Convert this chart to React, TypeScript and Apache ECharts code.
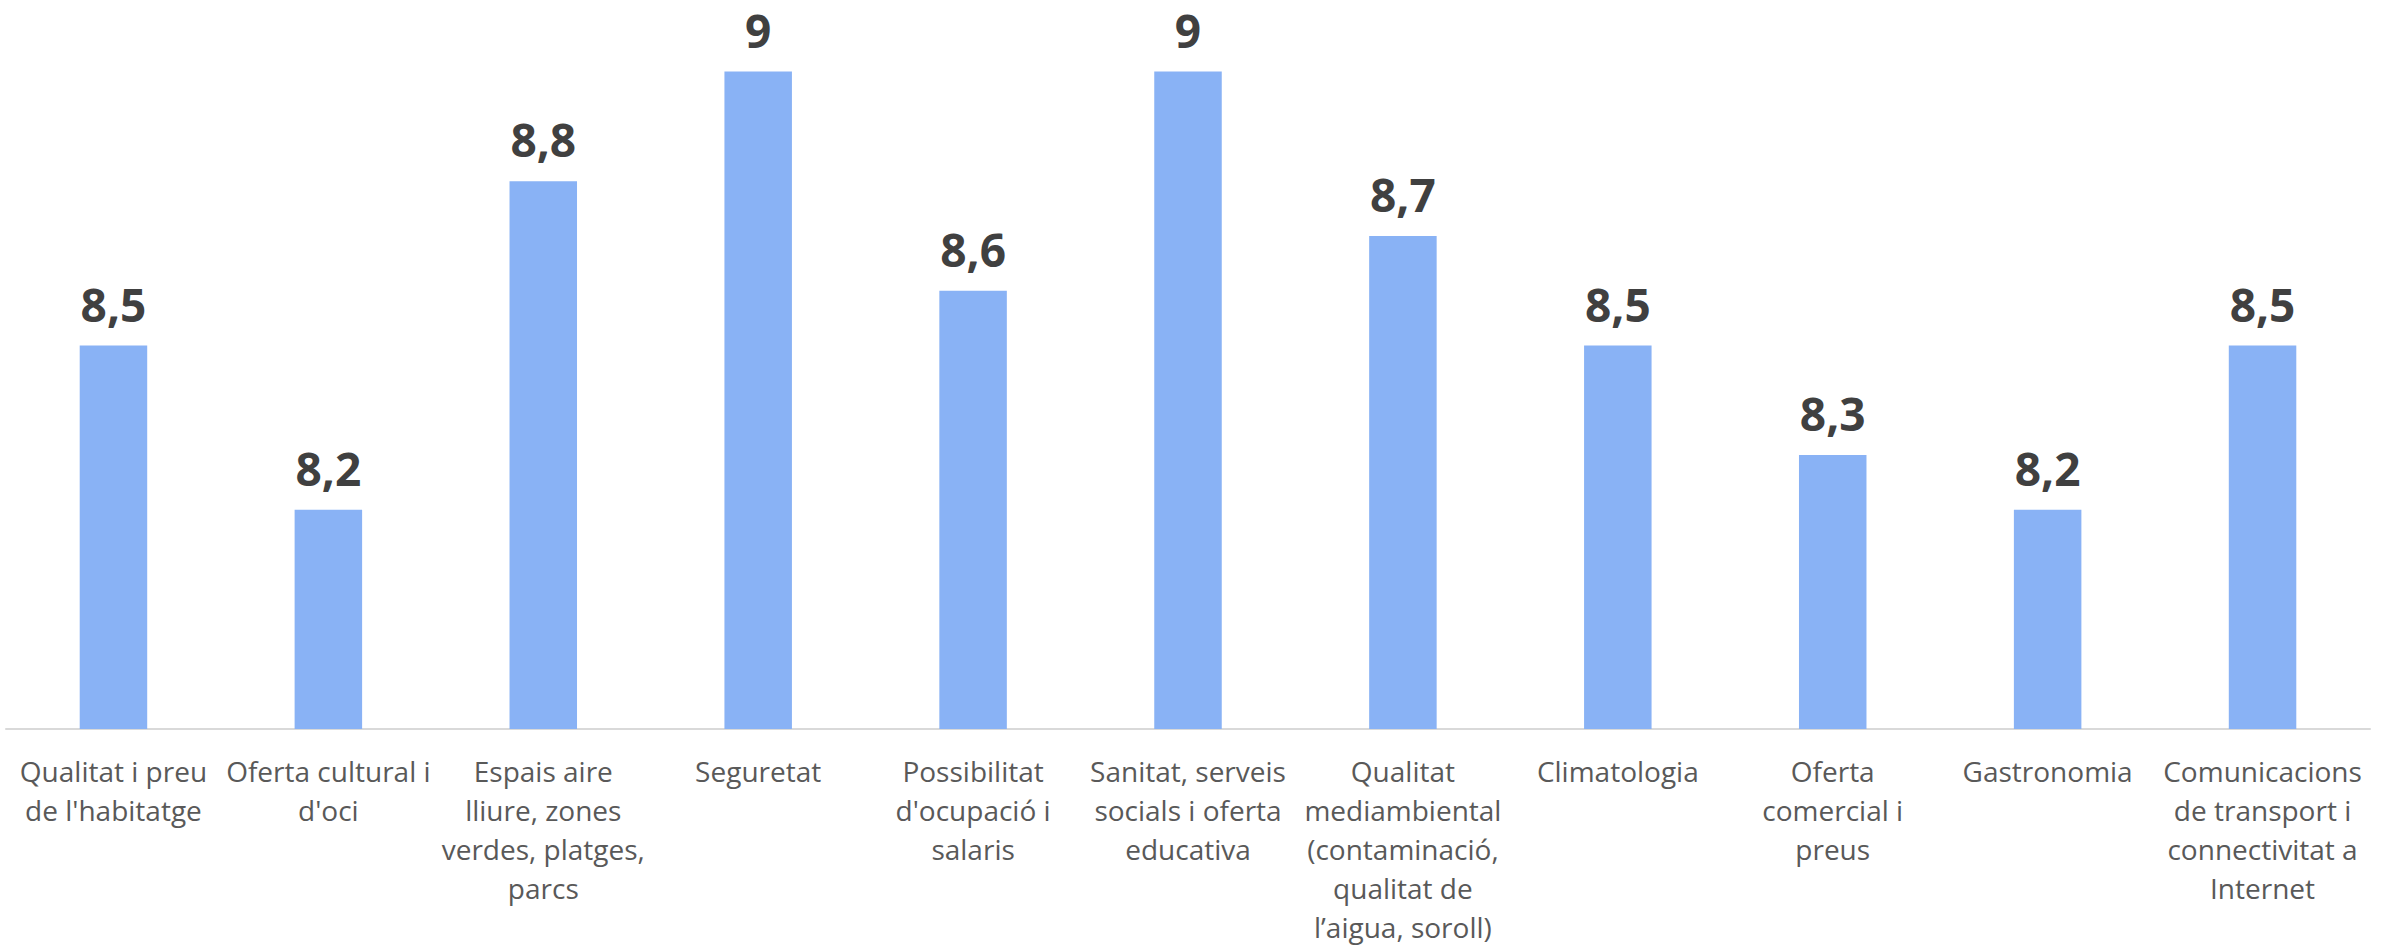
import React, { useEffect, useRef } from "react";
import * as echarts from "echarts";

const categories: string[] = [
  "Qualitat i preu\nde l'habitatge",
  "Oferta cultural i\nd'oci",
  "Espais aire\nlliure, zones\nverdes, platges,\nparcs",
  "Seguretat",
  "Possibilitat\nd'ocupació i\nsalaris",
  "Sanitat, serveis\nsocials i oferta\neducativa",
  "Qualitat\nmediambiental\n(contaminació,\nqualitat de\nl’aigua, soroll)",
  "Climatologia",
  "Oferta\ncomercial i\npreus",
  "Gastronomia",
  "Comunicacions\nde transport i\nconnectivitat a\nInternet",
];

const values: number[] = [8.5, 8.2, 8.8, 9, 8.6, 9, 8.7, 8.5, 8.3, 8.2, 8.5];

const yMin = 7.8;
const yMax = 9;

export default function App() {
  const ref = useRef<HTMLDivElement>(null);

  useEffect(() => {
    if (!ref.current) return;
    const chart = echarts.init(ref.current, undefined, { renderer: "svg" });
    chart.setOption({
      animation: false,
      backgroundColor: "#ffffff",
      grid: { left: 6, right: 19, top: 71.6, bottom: 213, containLabel: false },
      xAxis: {
        type: "category",
        data: categories,
        axisLine: { show: true, lineStyle: { color: "#d9d9d9", width: 2 } },
        axisTick: { show: false },
        axisLabel: {
          interval: 0,
          margin: 22,
          fontFamily: "Open Sans",
          fontSize: 28,
          lineHeight: 39,
          color: "#595959",
          align: "center",
        },
      },
      yAxis: {
        type: "value",
        min: yMin,
        max: yMax,
        show: false,
        splitLine: { show: false },
      },
      series: [
        {
          type: "bar",
          data: values,
          barWidth: 67.5,
          itemStyle: { color: "#89b2f5" },
          label: {
            show: true,
            position: "top",
            distance: 19,
            fontFamily: "Open Sans",
            fontWeight: "bold",
            fontSize: 46,
            lineHeight: 46,
            color: "#404040",
            formatter: (p: any) => String(p.value).replace(".", ","),
          },
        },
      ],
    });
    return () => chart.dispose();
  }, []);

  return (
    <div
      ref={ref}
      style={{ position: "fixed", left: 0, top: 0, width: 2389, height: 946 }}
    />
  );
}
